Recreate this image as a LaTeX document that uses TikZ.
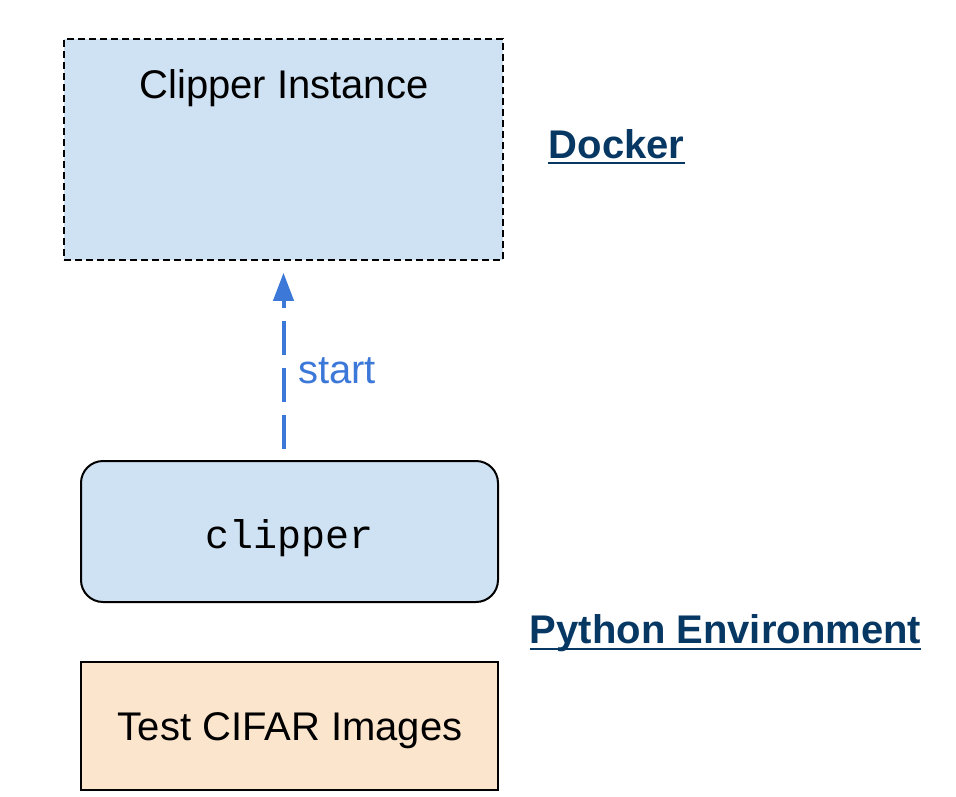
\documentclass[tikz,border=0pt]{standalone}
\usepackage{fontspec}
\setmainfont{Liberation Sans}
\setmonofont{Liberation Mono}
\usetikzlibrary{arrows.meta}
\definecolor{lblue}{HTML}{CFE2F3}
\definecolor{lorange}{HTML}{FCE5CD}
\definecolor{arrblue}{HTML}{3C78D8}
\definecolor{dblue}{HTML}{073763}
\tikzset{
  big/.style={font=\fontsize{40}{48}\selectfont},
  boxdashed/.style={draw=black, fill=lblue, line width=1.5pt, dash pattern=on 7pt off 4pt, minimum width=439pt, minimum height=221pt, inner sep=0pt},
  boxround/.style={draw=black, fill=lblue, line width=2pt, rounded corners=22pt, minimum width=417pt, minimum height=141pt, inner sep=0pt},
  boxplain/.style={draw=black, fill=lorange, line width=2pt, minimum width=417pt, minimum height=128pt, inner sep=0pt},
  heading/.style={font=\fontsize{40}{48}\selectfont\bfseries, text=dblue, inner sep=0pt},
  uline/.style={draw=dblue, line width=2.5pt},
  startarrow/.style={draw=arrblue, line width=4pt, dash pattern=on 34pt off 13pt, -{Triangle[length=28pt,width=20pt]}}
}
\begin{document}
\begin{tikzpicture}[x=1pt,y=-1pt]
\useasboundingbox (0,0) rectangle (956,796);
\node[boxdashed] (ci) at (283.5,149.5) {};
\node[big, anchor=base, inner sep=0pt] (citext) at (284,98) {Clipper Instance};
\node[heading, anchor=base] (docker) at (616.5,158) {Docker};
\draw[uline] ([yshift=-5pt]docker.base west) -- ([yshift=-5pt]docker.base east);
\node[boxround] (cl) at (289.5,531.5) {};
\node[font=\fontsize{40}{48}\selectfont\ttfamily, anchor=base, inner sep=0pt] (cltext) at (290,548) {clipper};
\node[heading, anchor=base] (py) at (725.5,643) {Python Environment};
\draw[uline] ([yshift=-6pt]py.base west) -- ([yshift=-6pt]py.base east);
\node[boxplain] (tc) at (289.5,726) {};
\node[big, anchor=base, inner sep=0pt] (tctext) at (290,740) {Test CIFAR Images};
\draw[startarrow, shorten <=11pt, shorten >=12pt] (ci.south |- cl.north) -- (ci.south);
\node[big, text=arrblue, anchor=base west, inner sep=0pt] (st) at (298,383) {start};
\end{tikzpicture}
\end{document}
